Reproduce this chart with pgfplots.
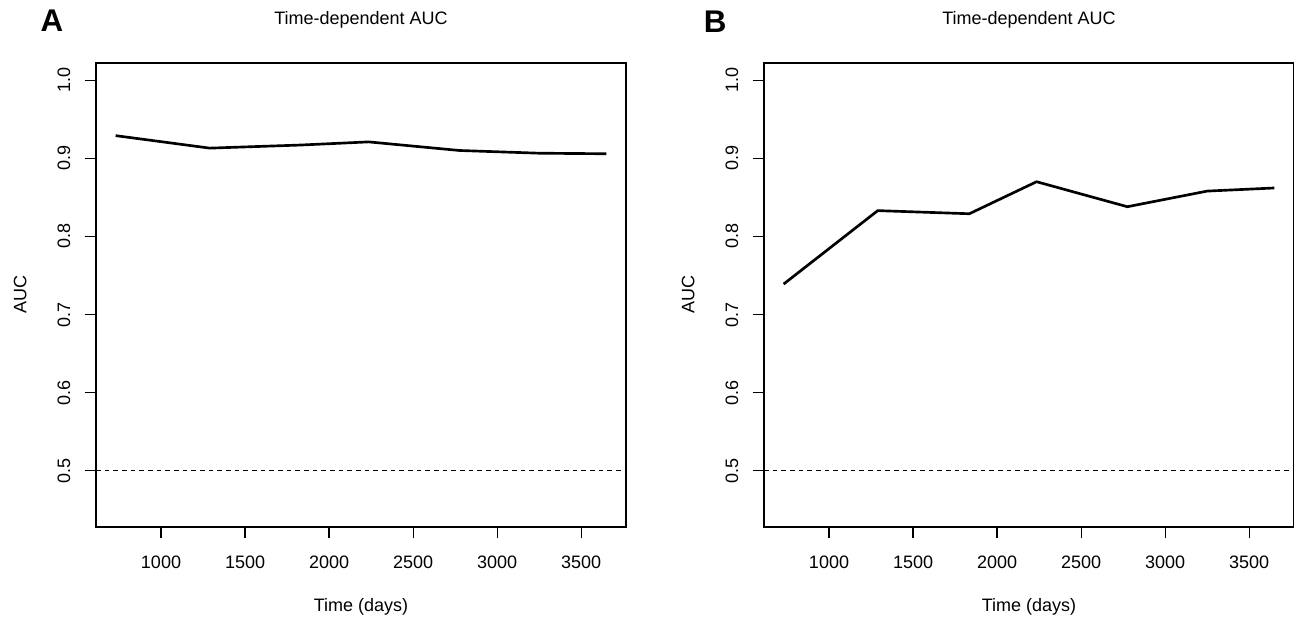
\documentclass[border=0pt]{standalone}
\usepackage{fontspec}
\setmainfont{Liberation Sans}
\usepackage{pgfplots}
\pgfplotsset{compat=1.18}
\pgfplotstableread{
t auc
730  0.929
1290 0.913
1835 0.917
2235 0.921
2775 0.910
3250 0.9065
3650 0.9058
}\dataA
\pgfplotstableread{
t auc
730  0.739
1290 0.833
1835 0.829
2235 0.870
2775 0.838
3250 0.858
3650 0.862
}\dataB
\pgfplotsset{
  rstyle/.style={
    scale only axis, width=397.5pt, height=348pt,
    xmin=613.2, xmax=3766.8, ymin=0.428, ymax=1.022,
    xtick={1000,1500,2000,2500,3000,3500},
    ytick={0.5,0.6,0.7,0.8,0.9,1.0},
    /pgf/number format/assume math mode=true,
    /pgf/number format/1000 sep={},
    scaled ticks=false,
    yticklabel={\pgfmathprintnumber[fixed,fixed zerofill,precision=1]{\tick}},
    xtick pos=left, ytick pos=left,
    tick align=outside,
    major tick length=8.5pt,
    major tick style={draw=black, line width=0.9pt},
    axis line style={line width=0.9pt},
    xticklabel style={anchor=north, inner sep=0pt, yshift=-13pt},
    yticklabel style={xshift=-10.5pt, rotate=90, anchor=south, inner sep=0pt},
    title={Time-dependent AUC},
    title style={at={(axis description cs:0.5,1.075)}, anchor=center},
    xlabel={Time (days)},
    xlabel style={at={(axis description cs:0.5,-0.172)}, anchor=center},
    ylabel={AUC},
    ylabel style={at={(axis description cs:-0.143,0.5)}, anchor=center, rotate=0},
    clip=false,
    font=\fontsize{13.5}{16}\selectfont,
  }
}
\newcommand\rticks{%
  \pgfplotsinvokeforeach{1000,1500,2000,2500,3000,3500}{%
    \draw[black, line width=0.9pt] (axis cs:##1,0.428) -- ++(0pt,-8.5pt);}%
  \pgfplotsinvokeforeach{0.5,0.6,0.7,0.8,0.9,1.0}{%
    \draw[black, line width=0.9pt] (axis cs:613.2,##1) -- ++(-8.5pt,0pt);}%
}
\begin{document}
\fontsize{13.5}{16}\selectfont
\begin{tikzpicture}
\path[use as bounding box] (0,0) rectangle (970.5pt,465pt);
\begin{axis}[rstyle, at={(72pt,69.75pt)}, anchor=south west]
  \addplot[black, line width=0.75pt, dash pattern=on 3.5pt off 3pt] coordinates {(613.2,0.5) (3766.8,0.5)};
  \addplot[black, line width=2pt, line join=round] table[x=t, y=auc] {\dataA};
  \rticks
  \node[font=\bfseries\fontsize{23.5}{24}\selectfont] at (rel axis cs:-0.083,1.092) {A};
\end{axis}
\begin{axis}[rstyle, at={(573pt,69.75pt)}, anchor=south west]
  \addplot[black, line width=0.75pt, dash pattern=on 3.5pt off 3pt] coordinates {(613.2,0.5) (3766.8,0.5)};
  \addplot[black, line width=2pt, line join=round] table[x=t, y=auc] {\dataB};
  \rticks
  \node[font=\bfseries\fontsize{23.5}{24}\selectfont] at (rel axis cs:-0.092,1.088) {B};
\end{axis}
\end{tikzpicture}
\end{document}
